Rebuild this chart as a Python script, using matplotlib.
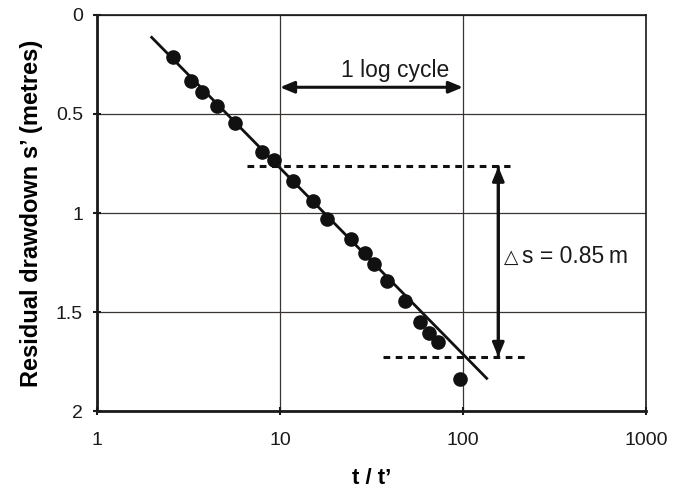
import matplotlib
matplotlib.use("Agg")
import matplotlib.pyplot as plt

plt.rcParams['font.family'] = ['Liberation Sans', 'DejaVu Sans']

# Data
t_ratio = [2.59, 3.26, 3.73, 4.51, 5.66, 7.97, 9.31, 11.73, 15.1, 18.0,
           24.4, 29.3, 32.8, 38.6, 48.4, 58.2, 65.5, 73.3, 96.3]
residual = [0.21, 0.332, 0.387, 0.46, 0.544, 0.69, 0.732, 0.837, 0.938, 1.03,
            1.131, 1.204, 1.258, 1.342, 1.443, 1.552, 1.606, 1.653, 1.838]

fit_t = [1.99, 134.8]
fit_s = [0.113, 1.835]

upper_dash_t = [6.63, 180.6]
upper_dash_s = [0.761, 0.761]
lower_dash_t = [36.7, 223.6]
lower_dash_s = [1.729, 1.729]

delta_arrow_t = 156
delta_arrow_s = [0.766, 1.727]
cycle_arrow_t = [10, 100]
cycle_arrow_s = 0.365

x_ticks = [1, 10, 100, 1000]
x_tick_labels = ['1', '10', '100', '1000']
y_ticks = [0, 0.5, 1, 1.5, 2]
y_tick_labels = ['0', '0.5', '1', '1.5', '2']

fig = plt.figure(figsize=(6.85, 4.93), dpi=100)
ax = fig.add_axes([0.1416, 0.1663, 0.8014, 0.8033])

ax.set_xscale('log')
ax.set_xlim(1, 1000)
ax.set_ylim(2, 0)
ax.set_xticks(x_ticks)
ax.set_xticklabels(x_tick_labels)
ax.set_yticks(y_ticks)
ax.set_yticklabels(y_tick_labels)
ax.minorticks_off()
ax.grid(True, color='#3a3530', linewidth=0.9)
ax.set_axisbelow(True)

ax.tick_params(axis='both', direction='inout', length=6, width=1.5,
               labelsize=14, colors='#1a1a1a')
ax.tick_params(axis='y', pad=7)
ax.tick_params(axis='x', pad=12)

for side in ['left', 'bottom']:
    ax.spines[side].set_linewidth(2.0)
    ax.spines[side].set_color('#1a1a1a')
for side in ['top', 'right']:
    ax.spines[side].set_linewidth(1.2)
    ax.spines[side].set_color('#1a1a1a')

ax.plot(fit_t, fit_s, color='#111111', linewidth=2.0, zorder=3)
ax.plot(t_ratio, residual, 'o', color='#111111', markersize=9.5, zorder=4)

ax.plot(upper_dash_t, upper_dash_s, color='#111111', linewidth=2.2,
        linestyle=(0, (2.2, 1.8)), zorder=3)
ax.plot(lower_dash_t, lower_dash_s, color='#111111', linewidth=2.2,
        linestyle=(0, (2.2, 1.8)), zorder=3)

ax.annotate('', xy=(delta_arrow_t, delta_arrow_s[0]),
            xytext=(delta_arrow_t, delta_arrow_s[1]),
            arrowprops=dict(arrowstyle='-|>,head_length=0.6,head_width=0.25',
                            color='#111111', lw=2.2,
                            mutation_scale=14, shrinkA=0, shrinkB=0))
ax.annotate('', xy=(delta_arrow_t, delta_arrow_s[1]),
            xytext=(delta_arrow_t, delta_arrow_s[0]),
            arrowprops=dict(arrowstyle='-|>,head_length=0.6,head_width=0.25',
                            color='#111111', lw=2.2,
                            mutation_scale=14, shrinkA=0, shrinkB=0))
ax.annotate('', xy=(cycle_arrow_t[0], cycle_arrow_s),
            xytext=(cycle_arrow_t[1], cycle_arrow_s),
            arrowprops=dict(arrowstyle='<|-|>,head_length=0.6,head_width=0.25',
                            color='#111111', lw=2.2,
                            mutation_scale=14, shrinkA=0, shrinkB=0))

ax.text(42.5, 0.278, '1 log cycle', ha='center', va='center', fontsize=16.5,
        color='#1a1a1a')
ax.text(168, 1.253, '\u25b3', ha='left', va='baseline',
        fontsize=13.5, color='#1a1a1a', family=['DejaVu Sans'])
ax.text(210, 1.253, 's = 0.85\u2009m', ha='left', va='baseline',
        fontsize=16.5, color='#1a1a1a')

ax.set_xlabel('t / t\u2019', fontsize=16, fontweight='bold', labelpad=14)
ax.set_ylabel('Residual drawdown s\u2019 (metres)', fontsize=17,
              fontweight='bold', labelpad=9)

fig.savefig('out.png', dpi=100)
